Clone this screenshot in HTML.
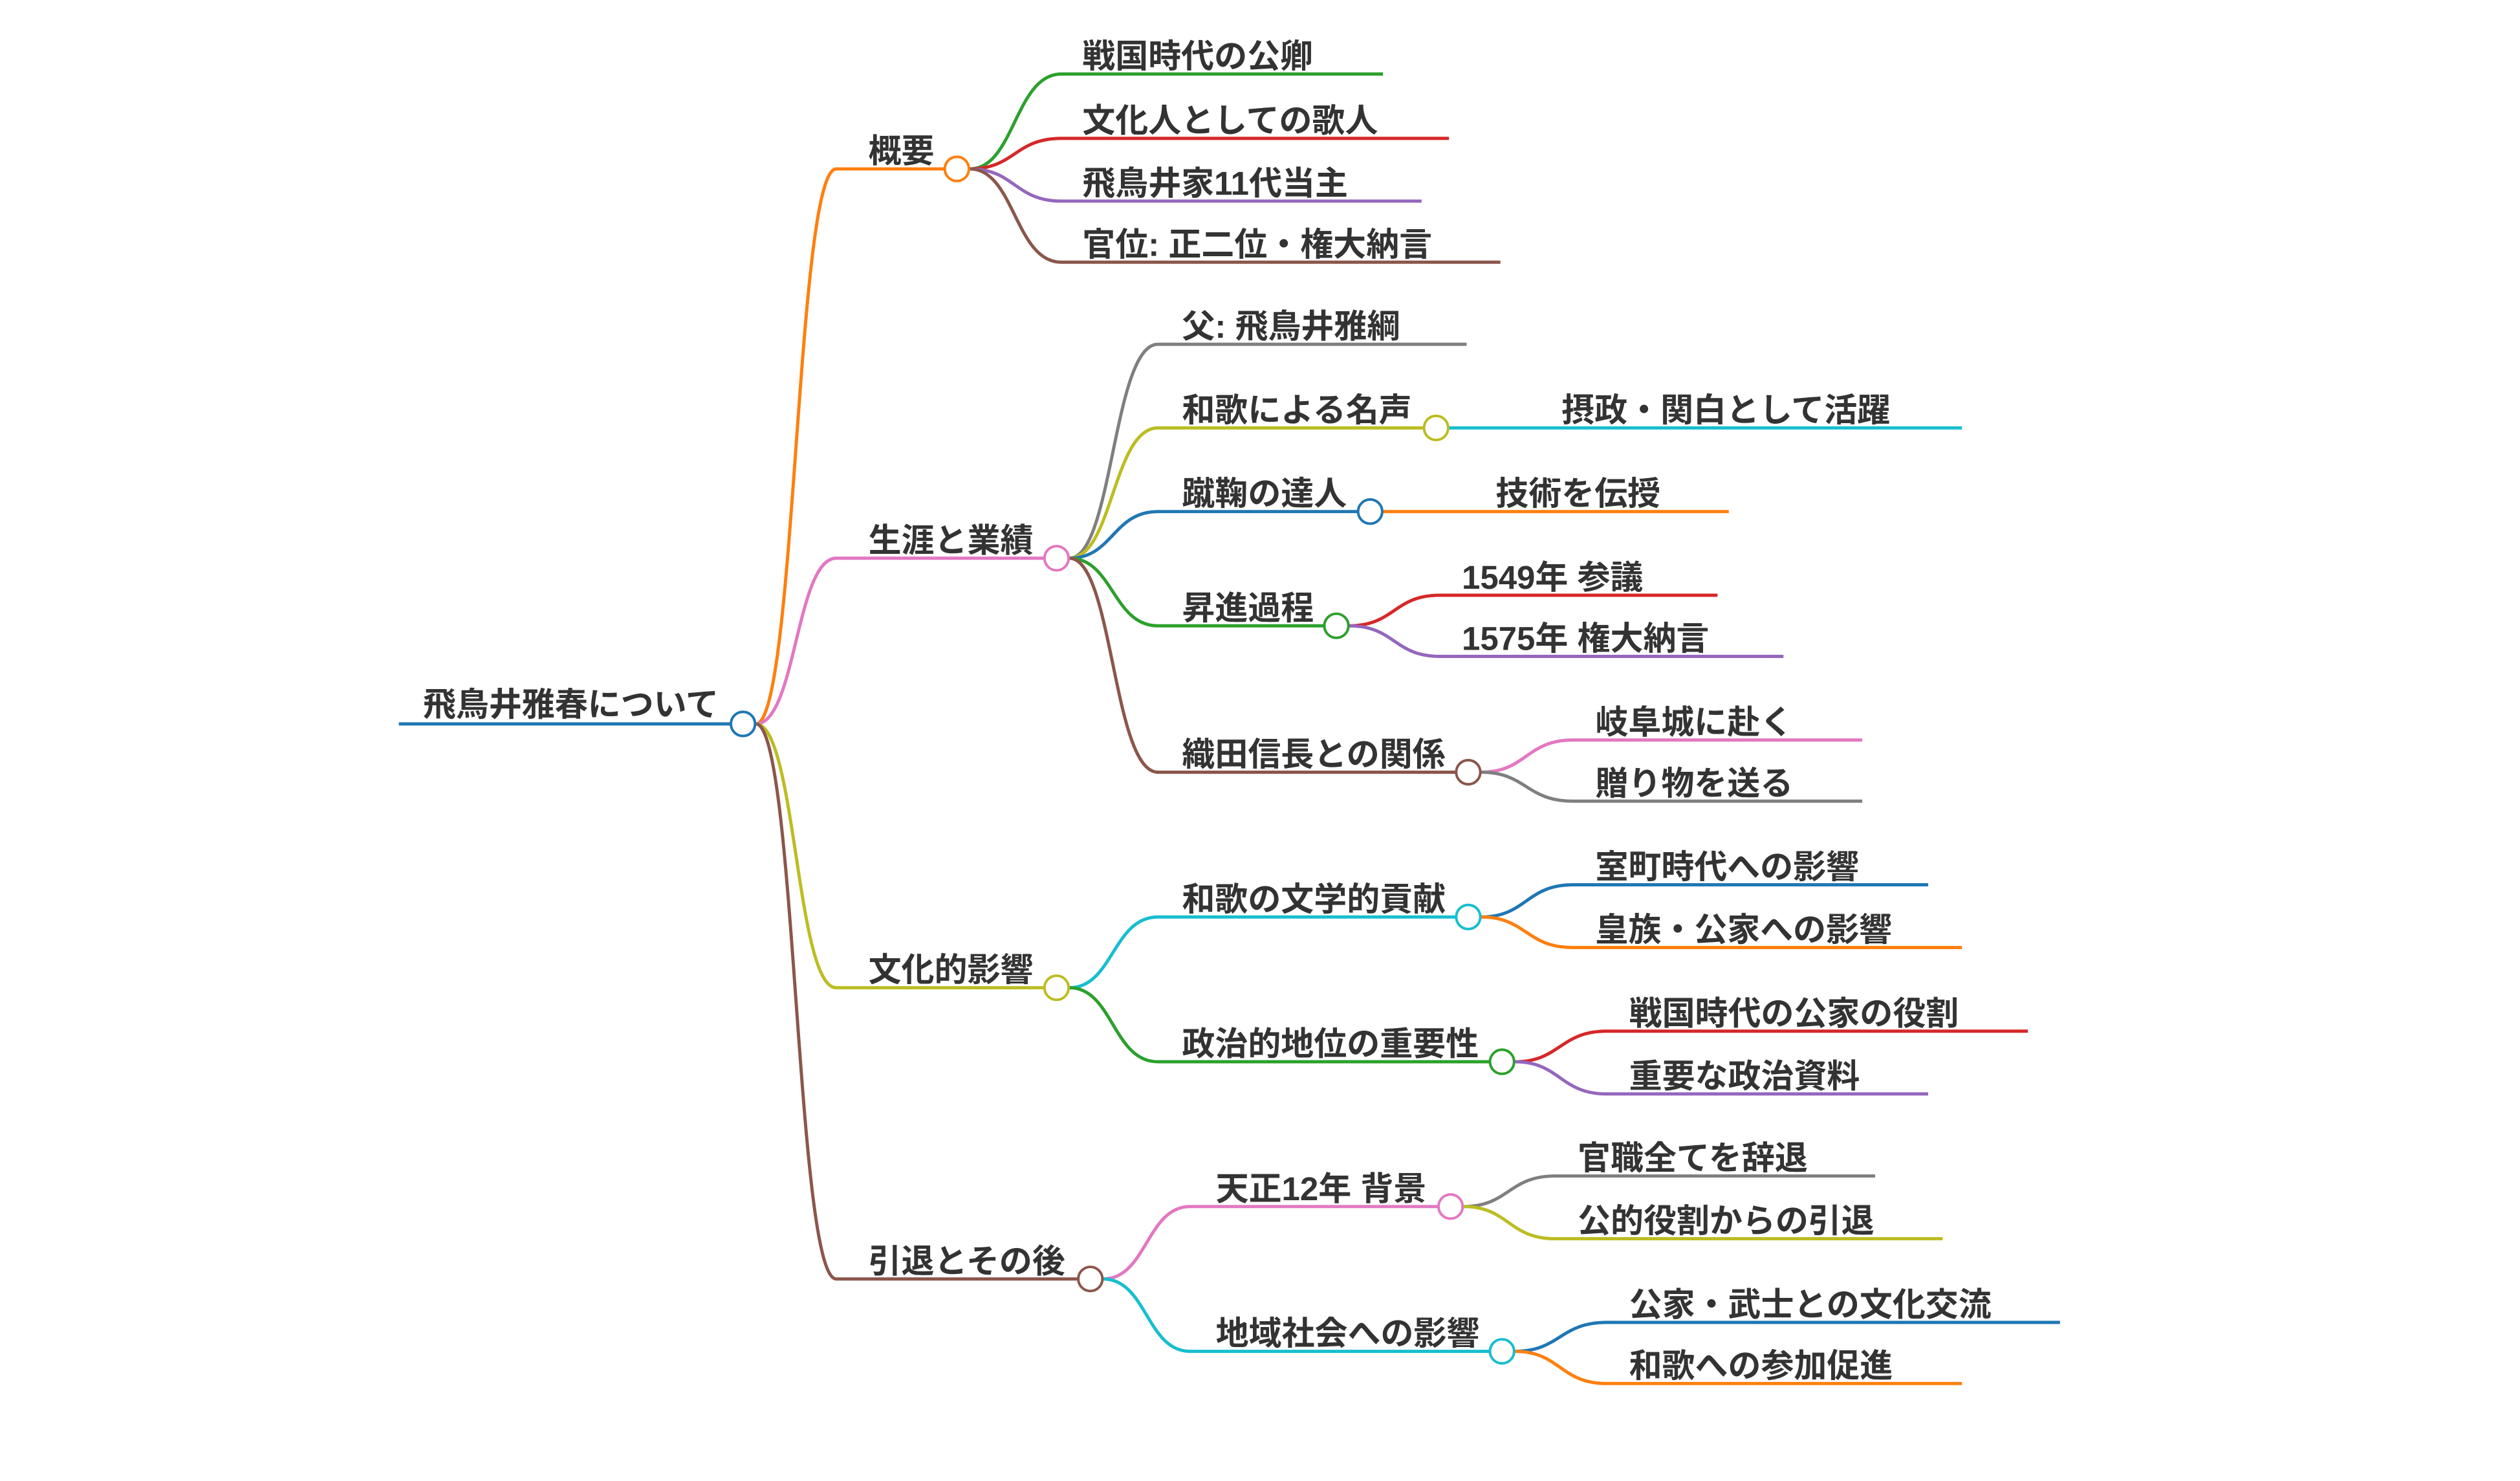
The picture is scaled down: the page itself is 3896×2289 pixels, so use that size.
<!DOCTYPE html>
<html><head><meta charset="utf-8"><style>
html,body{margin:0;padding:0;background:#fff;}
svg{display:block;}
text{font-family:"Liberation Sans","Noto Sans CJK JP",sans-serif;font-weight:bold;font-size:20.5px;fill:#333;}
path{fill:none;stroke-width:2;}
circle{fill:#fff;stroke-width:1.6;}
</style></head><body>
<svg width="3896" height="2289" viewBox="0 0 1567 920.6" preserveAspectRatio="none" xmlns="http://www.w3.org/2000/svg">
<path d="M248 450 L454 450" stroke="#1f77b4" stroke-width="2.4"/>
<path d="M470 450 C495 450 495 105 520 105 L587 105" stroke="#ff7f0e"/>
<path d="M470 450 C495 450 495 347 520 347 L649 347" stroke="#e377c2"/>
<path d="M470 450 C495 450 495 614 520 614 L649 614" stroke="#bcbd22"/>
<path d="M470 450 C495 450 495 795 520 795 L670 795" stroke="#8c564b"/>
<path d="M603 105 C631 105 631 46 660 46 L860 46" stroke="#2ca02c"/>
<path d="M603 105 C631 105 631 86 660 86 L901 86" stroke="#d62728"/>
<path d="M603 105 C631 105 631 125 660 125 L884 125" stroke="#9467bd"/>
<path d="M603 105 C631 105 631 163 660 163 L933 163" stroke="#8c564b"/>
<path d="M665 347 C692 347 692 214 720 214 L912 214" stroke="#7f7f7f"/>
<path d="M665 347 C692 347 692 266 720 266 L885 266" stroke="#bcbd22"/>
<path d="M901 266 L1220 266" stroke="#17becf"/>
<path d="M665 347 C692 347 692 318 720 318 L844 318" stroke="#1f77b4"/>
<path d="M860 318 L1075 318" stroke="#ff7f0e"/>
<path d="M665 347 C692 347 692 389 720 389 L823 389" stroke="#2ca02c"/>
<path d="M839 389 C867 389 867 370 895 370 L1068 370" stroke="#d62728"/>
<path d="M839 389 C867 389 867 408 895 408 L1109 408" stroke="#9467bd"/>
<path d="M665 347 C692 347 692 480 720 480 L905 480" stroke="#8c564b"/>
<path d="M921 480 C949 480 949 460 978 460 L1158 460" stroke="#e377c2"/>
<path d="M921 480 C949 480 949 498 978 498 L1158 498" stroke="#7f7f7f"/>
<path d="M665 614 C692 614 692 570 720 570 L905 570" stroke="#17becf"/>
<path d="M921 570 C949 570 949 550 978 550 L1199 550" stroke="#1f77b4"/>
<path d="M921 570 C949 570 949 589 978 589 L1220 589" stroke="#ff7f0e"/>
<path d="M665 614 C692 614 692 660 720 660 L926 660" stroke="#2ca02c"/>
<path d="M942 660 C970 660 970 641 999 641 L1261 641" stroke="#d62728"/>
<path d="M942 660 C970 660 970 680 999 680 L1199 680" stroke="#9467bd"/>
<path d="M686 795 C713 795 713 750 740 750 L894 750" stroke="#e377c2"/>
<path d="M910 750 C938 750 938 731 967 731 L1166 731" stroke="#7f7f7f"/>
<path d="M910 750 C938 750 938 770 967 770 L1208 770" stroke="#bcbd22"/>
<path d="M686 795 C713 795 713 840 740 840 L926 840" stroke="#17becf"/>
<path d="M942 840 C970 840 970 822 999 822 L1281 822" stroke="#1f77b4"/>
<path d="M942 840 C970 840 970 860 999 860 L1220 860" stroke="#ff7f0e"/>
<circle cx="462" cy="450" r="7.5" stroke="#1f77b4"/>
<circle cx="595" cy="105" r="7.5" stroke="#ff7f0e"/>
<circle cx="657" cy="347" r="7.5" stroke="#e377c2"/>
<circle cx="657" cy="614" r="7.5" stroke="#bcbd22"/>
<circle cx="678" cy="795" r="7.5" stroke="#8c564b"/>
<circle cx="893" cy="266" r="7.5" stroke="#bcbd22"/>
<circle cx="852" cy="318" r="7.5" stroke="#1f77b4"/>
<circle cx="831" cy="389" r="7.5" stroke="#2ca02c"/>
<circle cx="913" cy="480" r="7.5" stroke="#8c564b"/>
<circle cx="913" cy="570" r="7.5" stroke="#17becf"/>
<circle cx="934" cy="660" r="7.5" stroke="#2ca02c"/>
<circle cx="902" cy="750" r="7.5" stroke="#e377c2"/>
<circle cx="934" cy="840" r="7.5" stroke="#17becf"/>
<text x="263" y="445">飛鳥井雅春について</text>
<text x="540" y="101">概要</text>
<text x="540" y="343">生涯と業績</text>
<text x="540" y="610">文化的影響</text>
<text x="540" y="791">引退とその後</text>
<text x="673" y="42">戦国時代の公卿</text>
<text x="673" y="82">文化人としての歌人</text>
<text x="673" y="121">飛鳥井家11代当主</text>
<text x="673" y="159">官位: 正二位・権大納言</text>
<text x="735" y="210">父: 飛鳥井雅綱</text>
<text x="735" y="262">和歌による名声</text>
<text x="971" y="262">摂政・関白として活躍</text>
<text x="735" y="314">蹴鞠の達人</text>
<text x="930" y="314">技術を伝授</text>
<text x="735" y="385">昇進過程</text>
<text x="909" y="366">1549年 参議</text>
<text x="909" y="404">1575年 権大納言</text>
<text x="735" y="476">織田信長との関係</text>
<text x="992" y="456">岐阜城に赴く</text>
<text x="992" y="494">贈り物を送る</text>
<text x="735" y="566">和歌の文学的貢献</text>
<text x="992" y="546">室町時代への影響</text>
<text x="992" y="585">皇族・公家への影響</text>
<text x="735" y="656">政治的地位の重要性</text>
<text x="1013" y="637">戦国時代の公家の役割</text>
<text x="1013" y="676">重要な政治資料</text>
<text x="756" y="746">天正12年 背景</text>
<text x="981" y="727">官職全てを辞退</text>
<text x="981" y="766">公的役割からの引退</text>
<text x="756" y="836">地域社会への影響</text>
<text x="1013" y="818">公家・武士との文化交流</text>
<text x="1013" y="856">和歌への参加促進</text>
</svg>
</body></html>
